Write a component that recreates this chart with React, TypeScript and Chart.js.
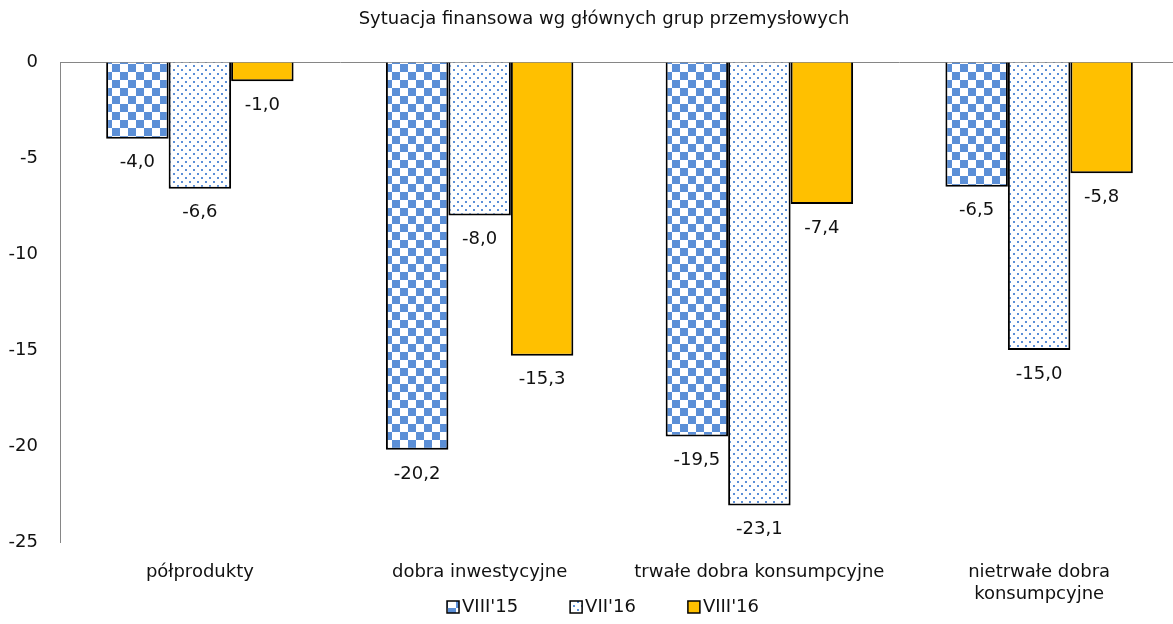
import React, { useEffect, useRef } from "react";
import { Chart, registerables } from "chart.js";

Chart.register(...registerables);

const title = "Sytuacja finansowa wg głównych grup przemysłowych";
const categories = [
  "półprodukty",
  "dobra inwestycyjne",
  "trwałe dobra konsumpcyjne",
  ["nietrwałe dobra", "konsumpcyjne"],
];
const seriesNames = ["VIII'15", "VII'16", "VIII'16"];
const viii15 = [-4.0, -20.2, -19.5, -6.5];
const vii16 = [-6.6, -8.0, -23.1, -15.0];
const viii16 = [-1.0, -15.3, -7.4, -5.8];
const yTicks = [0, -5, -10, -15, -20, -25];

const FONT = "Tahoma, 'DejaVu Sans', sans-serif";
const FONT_SIZE = 18;
const BLUE = "#5B8FD7";
const GOLD = "#FFC000";
const TEXT = "#111111";

function checkerPattern(): CanvasPattern | string {
  const c = document.createElement("canvas");
  c.width = 16;
  c.height = 16;
  const g = c.getContext("2d");
  if (!g) return BLUE;
  g.fillStyle = "#ffffff";
  g.fillRect(0, 0, 16, 16);
  g.fillStyle = BLUE;
  g.fillRect(0, 0, 8, 8);
  g.fillRect(8, 8, 8, 8);
  return g.createPattern(c, "repeat") || BLUE;
}

function dotPattern(): CanvasPattern | string {
  const c = document.createElement("canvas");
  c.width = 8;
  c.height = 8;
  const g = c.getContext("2d");
  if (!g) return "#ffffff";
  g.fillStyle = "#ffffff";
  g.fillRect(0, 0, 8, 8);
  g.fillStyle = BLUE;
  g.fillRect(1, 1, 2, 2);
  g.fillRect(5, 5, 2, 2);
  return g.createPattern(c, "repeat") || "#ffffff";
}

const fmt = (v: number) => v.toFixed(1).replace(".", ",");

// Chart heading, centred over the full chart width.
const heading = {
  id: "heading",
  afterDraw(chart: any) {
    const ctx = chart.ctx;
    ctx.save();
    ctx.font = `${FONT_SIZE}px ${FONT}`;
    ctx.fillStyle = TEXT;
    ctx.textAlign = "center";
    ctx.textBaseline = "middle";
    ctx.fillText(title, 604, 19);
    ctx.restore();
  },
};

// Writes each bar's value just below its end.
const valueLabels = {
  id: "valueLabels",
  afterDatasetsDraw(chart: any) {
    const ctx = chart.ctx;
    ctx.save();
    ctx.font = `${FONT_SIZE}px ${FONT}`;
    ctx.fillStyle = TEXT;
    ctx.textAlign = "center";
    ctx.textBaseline = "middle";
    chart.data.datasets.forEach((ds: any, di: number) => {
      const meta = chart.getDatasetMeta(di);
      meta.data.forEach((bar: any, i: number) => {
        ctx.fillText(fmt(ds.data[i]), bar.x, bar.y + 24);
      });
    });
    ctx.restore();
  },
};

// Legend row under the category labels: bordered swatch, then series name.
const bottomLegend = {
  id: "bottomLegend",
  afterDraw(chart: any) {
    const ctx = chart.ctx;
    ctx.save();
    ctx.font = `${FONT_SIZE}px ${FONT}`;
    ctx.textBaseline = "middle";
    ctx.textAlign = "left";
    const box = 12;
    const boxGap = 3;
    const itemGap = 52;
    const widths = chart.data.datasets.map((ds: any) => box + boxGap + ctx.measureText(ds.label).width);
    const total = widths.reduce((a: number, b: number) => a + b, 0) + itemGap * (widths.length - 1);
    const cy = 607;
    let x = 603 - total / 2;
    chart.data.datasets.forEach((ds: any, i: number) => {
      ctx.fillStyle = ds.backgroundColor;
      ctx.fillRect(x, cy - box / 2, box, box);
      ctx.lineWidth = 1.5;
      ctx.strokeStyle = "#000000";
      ctx.strokeRect(x, cy - box / 2, box, box);
      ctx.fillStyle = TEXT;
      ctx.fillText(ds.label, x + box + boxGap, cy);
      x += widths[i] + itemGap;
    });
    ctx.restore();
  },
};

export default function App() {
  const ref = useRef<HTMLCanvasElement | null>(null);

  useEffect(() => {
    if (!ref.current) return;
    const chart = new Chart(ref.current, {
      type: "bar",
      data: {
        labels: categories as any,
        datasets: [
          { label: seriesNames[0], data: viii15, backgroundColor: checkerPattern() as any },
          { label: seriesNames[1], data: vii16, backgroundColor: dotPattern() as any },
          { label: seriesNames[2], data: viii16, backgroundColor: GOLD },
        ].map((d) => ({
          ...d,
          borderColor: "#000000",
          borderWidth: 2,
          categoryPercentage: 0.67,
          barPercentage: 1,
        })),
      },
      options: {
        animation: false,
        responsive: true,
        maintainAspectRatio: false,
        layout: { padding: { left: 0, right: 31, top: 62, bottom: 0 } },
        plugins: {
          title: { display: false },
          legend: { display: false },
          tooltip: { enabled: false },
        },
        scales: {
          x: {
            grid: { display: false, drawTicks: false },
            border: { display: false },
            ticks: {
              color: TEXT,
              font: { family: FONT, size: FONT_SIZE, lineHeight: 1.25 },
              padding: 19,
              maxRotation: 0,
              autoSkip: false,
            },
            afterFit: (s: any) => {
              s.height = 82;
            },
          },
          y: {
            min: -25,
            max: 0,
            afterBuildTicks: (s: any) => {
              s.ticks = yTicks.map((v) => ({ value: v }));
            },
            afterFit: (s: any) => {
              s.width = 60;
            },
            border: { display: true, color: "#868686", width: 1 },
            grid: {
              drawTicks: false,
              color: (c: any) => (c.tick && c.tick.value === 0 ? "#868686" : "rgba(0,0,0,0)"),
            },
            ticks: {
              color: TEXT,
              font: { family: FONT, size: FONT_SIZE },
              padding: 22,
              callback: (v: any) => String(v),
            },
          },
        },
      },
      plugins: [heading, valueLabels, bottomLegend],
    });
    return () => chart.destroy();
  }, []);

  return (
    <div style={{ position: "fixed", left: 0, top: 0, width: 1173, height: 624, overflow: "hidden", background: "#fff" }}>
      <div style={{ position: "absolute", left: 0, top: 0, width: 1210, height: 624 }}>
        <canvas ref={ref} />
      </div>
    </div>
  );
}
